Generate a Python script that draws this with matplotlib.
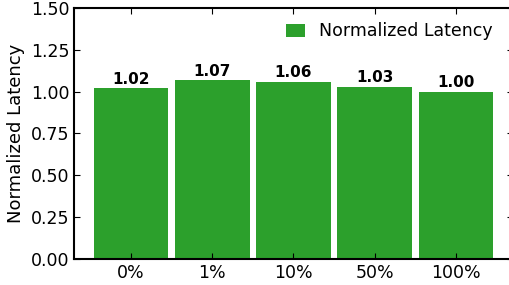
import numpy as np
import matplotlib
matplotlib.use('Agg')
import matplotlib.pyplot as plt

categories = ['0%', '1%', '10%', '50%', '100%']
latency = [1.02, 1.07, 1.06, 1.03, 1.00]

fig = plt.figure(figsize=(5.09, 2.85), dpi=100)
ax = fig.add_axes([0.1454, 0.0912, 0.862, 0.881])

x = np.arange(len(categories))
bars = ax.bar(x, latency, width=0.92, color='#2ca02c', label='Normalized Latency')

for b, v in zip(bars, latency):
    ax.text(b.get_x() + b.get_width() / 2, v + 0.008, '%.2f' % v,
            ha='center', va='bottom', fontsize=11, fontweight='bold')

ax.set_xlim(-0.7, 4.7)
ax.set_ylim(0, 1.5)
ax.set_yticks([0, 0.25, 0.5, 0.75, 1.0, 1.25, 1.5])
ax.set_xticks(x)
ax.set_xticklabels(categories)
ax.set_ylabel('Normalized Latency', fontsize=13)
ax.tick_params(direction='in', top=True, right=True, labelsize=12.5, length=4)
for s in ax.spines.values():
    s.set_linewidth(1.5)
ax.legend(loc='upper right', frameon=False, fontsize=12.5,
          handlelength=1.1, handleheight=0.8, bbox_to_anchor=(0.99, 1.005))

fig.savefig('out.png', dpi=100)
